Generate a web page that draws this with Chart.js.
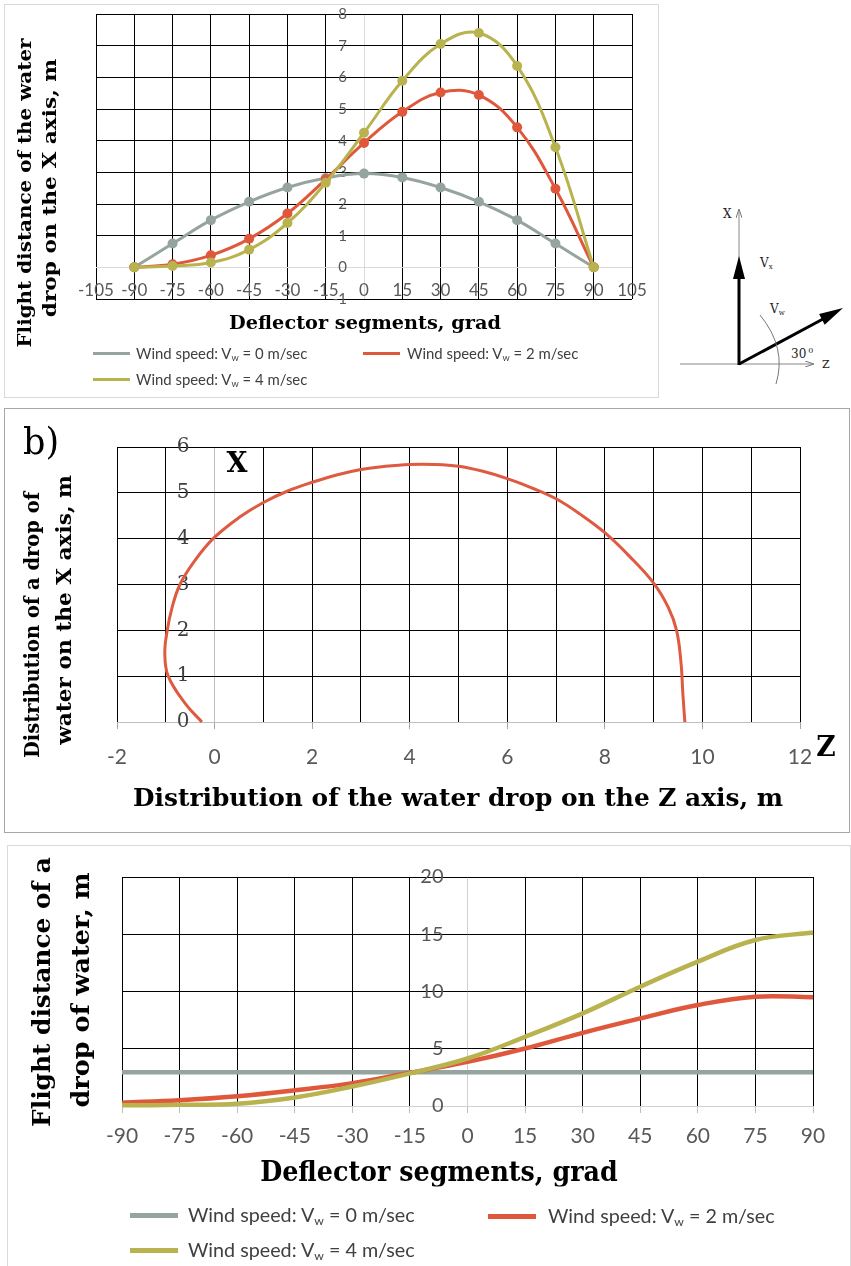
<!DOCTYPE html>
<html>
<head>
<meta charset="utf-8">
<script src="https://cdn.jsdelivr.net/npm/chart.js@4.4.1/dist/chart.umd.min.js"></script>
<style>
  html, body { margin: 0; padding: 0; background: #fff; }
  body { position: relative; width: 851px; height: 1266px; overflow: hidden; }
  .frame { position: absolute; border: 1px solid #d9d9d9; box-sizing: border-box; }
  canvas { position: absolute; left: 0; }
  .t { position: absolute; white-space: nowrap; line-height: 1; font-family: 'DejaVu Serif', serif; font-weight: bold; color: #000; font-size: 20px; }
  .t.plain { font-weight: normal; }
  .leg { position: absolute; white-space: nowrap; font-family: Lato, sans-serif; color: #404040; line-height: 1; transform: translateY(-50%); }
  .sw { position: absolute; }
  sub { font-size: 0.62em; vertical-align: -0.25em; line-height: 0; }
</style>
</head>
<body>

<div class="frame" style="left:4px;top:4px;width:655px;height:394px"></div>
<div class="frame" style="left:4px;top:408px;width:846px;height:425px;border-color:#a6a6a6"></div>
<div class="frame" style="left:7px;top:845px;width:844px;height:500px"></div>

<canvas id="c1" width="660" height="400" style="top:0"></canvas>
<canvas id="c2" width="851" height="425" style="top:405px"></canvas>
<canvas id="c3" width="851" height="421" style="top:845px"></canvas>

<!-- axis titles: data-s = font size, data-w = length in the picture, data-r = rotated -->
<div class="t" data-r="1" style="left:24px;top:193px" data-s="19" data-w="309">Flight distance of the water</div>
<div class="t" data-r="1" style="left:49px;top:188px" data-s="19" data-w="259">drop on the X axis, m</div>
<div class="t" style="left:365px;top:322px" data-s="19" data-w="272">Deflector segments, grad</div>

<div class="t plain" style="left:41px;top:441px" data-s="38" data-w="36">b)</div>
<div class="t" style="left:237px;top:462px" data-s="27" data-w="21">X</div>
<div class="t" style="left:826px;top:747px" data-s="28" data-w="19">Z</div>
<div class="t" data-r="1" style="left:31px;top:625px" data-s="21" data-w="266">Distribution of a drop of</div>
<div class="t" data-r="1" style="left:63px;top:610px" data-s="21" data-w="270">water on the X axis, m</div>
<div class="t" style="left:458px;top:797px" data-s="25" data-w="650">Distribution of the water drop on the Z axis, m</div>

<div class="t" data-r="1" style="left:41px;top:992px" data-s="25" data-w="270">Flight distance of a</div>
<div class="t" data-r="1" style="left:80px;top:990px" data-s="25" data-w="235">drop of water, m</div>
<div class="t" style="left:439px;top:1171px" data-s="27" data-w="358">Deflector segments, grad</div>

<!-- velocity sketch -->
<svg style="position:absolute;left:660px;top:190px" width="191" height="200" viewBox="0 0 191 200">
  <defs>
    <marker id="thin" markerWidth="9" markerHeight="6" refX="8" refY="3" orient="auto" markerUnits="userSpaceOnUse">
      <path d="M0,0 L9,3 L0,6" fill="none" stroke="#777" stroke-width="1"/>
    </marker>
  </defs>
  <line x1="79" y1="174" x2="79" y2="20" stroke="#888" stroke-width="1" marker-end="url(#thin)"/>
  <line x1="20" y1="174" x2="153" y2="174" stroke="#888" stroke-width="1" marker-end="url(#thin)"/>
  <line x1="79" y1="175" x2="79" y2="86" stroke="#000" stroke-width="3"/>
  <polygon points="73,89 85,89 79,66" fill="#000"/>
  <line x1="79" y1="174" x2="163" y2="129" stroke="#000" stroke-width="3"/>
  <polygon points="183,118 164.7,134.7 159.1,124.1" fill="#000"/>
  <path d="M100,125 Q127,158 116,194" fill="none" stroke="#777" stroke-width="1"/>
  <g font-family="DejaVu Serif, serif" fill="#222">
    <text x="63" y="28" font-size="12">X</text>
    <text x="100" y="77" font-size="12">V<tspan font-size="7" dy="2">x</tspan></text>
    <text x="110" y="123" font-size="12">V<tspan font-size="7" dy="2">w</tspan></text>
    <text x="131" y="168" font-size="12">30<tspan font-size="8" dy="-5" dx="2">0</tspan></text>
    <text x="162" y="178" font-size="11">Z</text>
  </g>
</svg>

<script>
// deflector segment angles, grad
const angles = [-90, -75, -60, -45, -30, -15, 0, 15, 30, 45, 60, 75, 90];
const windSpeeds = [0, 2, 4];

// a) flight distance on the X axis, m
const distXCalm  = [0, 0.75, 1.49, 2.07, 2.52, 2.82, 2.96, 2.84, 2.52, 2.07, 1.49, 0.75, 0];
const distXWind2 = [0, 0.1, 0.38, 0.9, 1.7, 2.78, 3.93, 4.91, 5.52, 5.44, 4.42, 2.48, 0];
const distXWind4 = [0, 0.04, 0.15, 0.56, 1.4, 2.67, 4.25, 5.89, 7.05, 7.4, 6.36, 3.79, 0];

// b) drop trace in the Z-X plane, m
const traceZ = [-0.26, -0.6, -0.95, -1.02, -0.97, -0.87, -0.71, -0.42, -0.03, 0.5, 1, 1.5, 2, 2.5, 3, 3.5, 4, 4.5, 5, 5.5, 6, 6.5, 7, 7.5, 8, 8.5, 9, 9.3, 9.47, 9.56, 9.6, 9.64];
const traceX = [0, 0.4, 1, 1.5, 2, 2.5, 3, 3.5, 4, 4.46, 4.79, 5.04, 5.23, 5.39, 5.51, 5.58, 5.62, 5.62, 5.58, 5.47, 5.31, 5.11, 4.87, 4.53, 4.13, 3.62, 3.03, 2.5, 2.0, 1.3, 0.6, 0];

// c) flight distance of a drop of water, m
const rangeCalm  = [2.95, 2.95, 2.95, 2.95, 2.95, 2.95, 2.95, 2.95, 2.95, 2.95, 2.95, 2.95, 2.95];
const rangeWind2 = [0.29, 0.5, 0.85, 1.37, 2.0, 2.9, 3.85, 5.02, 6.39, 7.65, 8.82, 9.55, 9.5];
const rangeWind4 = [0.06, 0.1, 0.2, 0.75, 1.7, 2.85, 4.15, 6.04, 8.09, 10.42, 12.61, 14.5, 15.15];

const seriesColors = ['#95a59d', '#e0583c', '#b8b34e'];

// draws tick labels Excel-style, next to the zero lines
const tickText = {
  id: 'tickText',
  beforeDatasetsDraw(chart, args, o) {
    const { ctx, scales: { x, y } } = chart;
    ctx.save();
    ctx.fillStyle = o.color;
    ctx.font = o.xFont;
    ctx.textAlign = 'center';
    ctx.textBaseline = 'middle';
    const yPix = y.getPixelForValue(0) + o.xGap;
    x.ticks.forEach(t => {
      if (o.xEvery && t.value % o.xEvery) return;
      ctx.fillText(String(t.value), x.getPixelForValue(t.value), yPix);
    });
    ctx.font = o.yFont;
    ctx.fillStyle = o.yColor || o.color;
    ctx.textAlign = 'right';
    const xPix = x.getPixelForValue(0) - o.yGap;
    y.ticks.forEach(t => ctx.fillText(String(t.value), xPix, y.getPixelForValue(t.value)));
    ctx.restore();
  }
};

function gridScale(min, max, step, zeroColor, horizontal, tick) {
  return {
    type: 'linear', min, max,
    ticks: { stepSize: step, display: false },
    grid: {
      color: c => c.tick.value === 0 ? zeroColor : '#000',
      lineWidth: 1,
      drawTicks: !!tick,
      tickLength: 7,
      tickColor: tick || 'rgba(0,0,0,0)'
    },
    border: { display: false },
    afterFit: s => { if (horizontal) s.height = 0; else s.width = 0; }
  };
}

function pts(xs, ys) {
  return xs.map((v, i) => ({ x: v, y: ys[i] }));
}

function baseOptions(padding, scales, labels) {
  return {
    responsive: false,
    animation: false,
    layout: { padding },
    scales,
    plugins: { legend: { display: false }, tooltip: { enabled: false }, tickText: labels }
  };
}

new Chart(document.getElementById('c1'), {
  type: 'line',
  data: {
    datasets: [distXCalm, distXWind2, distXWind4].map((arr, i) => ({
      data: pts(angles, arr),
      borderColor: seriesColors[i],
      backgroundColor: seriesColors[i],
      borderWidth: 3,
      pointRadius: 5,
      pointBorderWidth: 0,
      tension: 0.4,
      clip: false,
      order: 2 - i
    }))
  },
  options: baseOptions(
    { left: 96, top: 14, right: 28, bottom: 101 },
    { x: gridScale(-105, 105, 15, '#d9d9d9', true), y: gridScale(-1, 8, 1, '#d9d9d9', false) },
    { color: '#595959', xFont: '17px Lato', xGap: 23, yFont: '15px Lato', yGap: 17 }
  ),
  plugins: [tickText]
});

new Chart(document.getElementById('c2'), {
  type: 'scatter',
  data: {
    datasets: [{
      data: pts(traceZ, traceX),
      showLine: true,
      borderColor: '#de5a40',
      borderWidth: 3,
      pointRadius: 0,
      tension: 0.4,
      clip: false
    }]
  },
  options: baseOptions(
    { left: 117, top: 42, right: 51, bottom: 108 },
    {
      x: gridScale(-2, 12, 1, '#bfbfbf', true, c => c.tick.value % 2 ? 'rgba(0,0,0,0)' : '#a6a6a6'),
      y: gridScale(0, 6, 1, '#bfbfbf', false)
    },
    { color: '#595959', xFont: '21px Lato', xGap: 35, xEvery: 2, yFont: '20px "DejaVu Serif"', yColor: '#404040', yGap: 25 }
  ),
  plugins: [tickText]
});

new Chart(document.getElementById('c3'), {
  type: 'line',
  data: {
    datasets: [rangeCalm, rangeWind2, rangeWind4].map((arr, i) => ({
      data: pts(angles, arr),
      borderColor: seriesColors[i],
      borderWidth: 4.5,
      pointRadius: 0,
      tension: 0.4,
      clip: false,
      order: 2 - i
    }))
  },
  options: baseOptions(
    { left: 122, top: 32, right: 38, bottom: 160 },
    { x: gridScale(-90, 90, 15, '#d0d0d0', true, '#bfbfbf'), y: gridScale(0, 20, 5, '#d0d0d0', false) },
    { color: '#595959', xFont: '21px Lato', xGap: 30, yFont: '20px Lato', yGap: 24 }
  ),
  plugins: [tickText]
});

// legends (html so the subscript stays real text)
function legend(rows, fontSize, swW, swH, textW) {
  rows.forEach(([i, sx, y, tx]) => {
    const sw = document.createElement('div');
    sw.className = 'sw';
    sw.style.cssText = `left:${sx}px;top:${y - swH / 2}px;width:${swW}px;height:${swH}px;background:${seriesColors[i]}`;
    document.body.appendChild(sw);
    const lb = document.createElement('div');
    lb.className = 'leg';
    lb.style.cssText = `left:${tx}px;top:${y}px;font-size:${fontSize}px`;
    lb.dataset.lw = textW;
    lb.innerHTML = `Wind speed: V<sub>w</sub> = ${windSpeeds[i]} m/sec`;
    document.body.appendChild(lb);
  });
}
legend([[0, 93, 353, 136], [1, 363, 353, 407], [2, 93, 379, 136]], 13, 37, 3, 171);
legend([[0, 130, 1215, 188], [1, 488, 1216, 548], [2, 130, 1250, 188]], 18, 48, 5, 227);

// legend text: fit font size to the length in the picture
document.querySelectorAll('[data-lw]').forEach(el => {
  const size = parseFloat(getComputedStyle(el).fontSize);
  el.style.fontSize = (size * el.dataset.lw / el.offsetWidth) + 'px';
});
// titles: keep the font size, squeeze to the length in the picture
document.querySelectorAll('.t').forEach(el => {
  el.style.fontSize = el.dataset.s + 'px';
  const k = el.dataset.w / el.offsetWidth;
  el.style.transform = 'translate(-50%, -50%)' + (el.dataset.r ? ' rotate(-90deg)' : '') + ` scaleX(${k})`;
});
</script>
</body>
</html>
